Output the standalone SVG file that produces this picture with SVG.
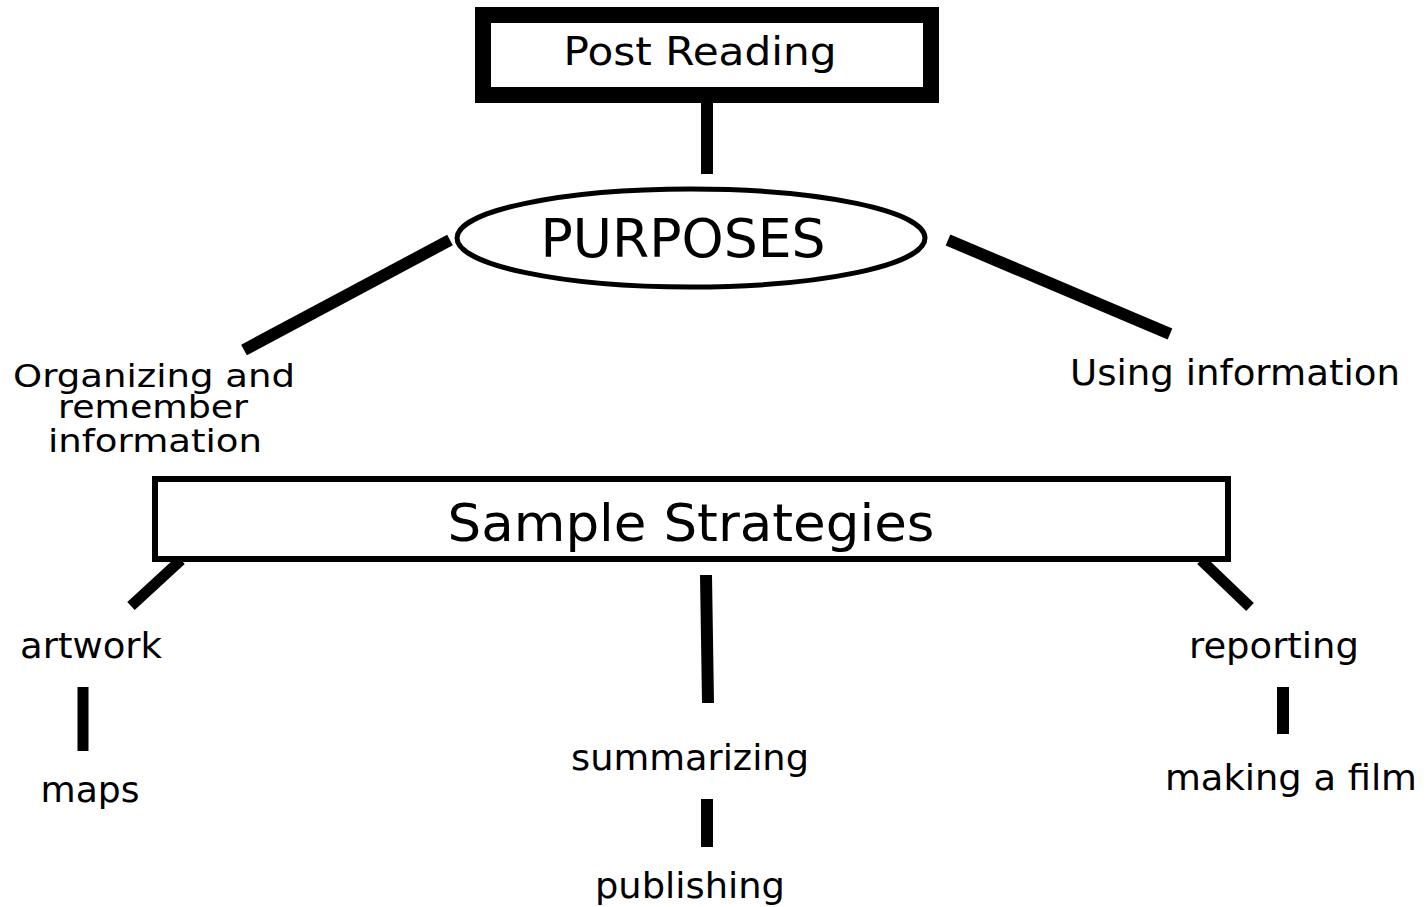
<svg xmlns="http://www.w3.org/2000/svg" width="1427" height="907" viewBox="0 0 1427 907">
<style>
text{font-family:"DejaVu Sans","Liberation Sans",sans-serif;fill:#000;text-anchor:middle}
.lbl{font-size:35px}
.org{font-size:32px}
.conn line{stroke:#000;stroke-linecap:butt}
</style>
<rect width="1427" height="907" fill="#fff"/>
<g id="connectors" class="conn">
<line x1="707" y1="102" x2="707" y2="174" stroke-width="12"/>
<line x1="450" y1="240" x2="244" y2="350" stroke-width="12"/>
<line x1="948" y1="240" x2="1170" y2="334" stroke-width="12"/>
<line x1="181" y1="560" x2="131" y2="606" stroke-width="11"/>
<line x1="706" y1="575" x2="708" y2="703" stroke-width="12"/>
<line x1="1201" y1="560" x2="1250" y2="607" stroke-width="11"/>
<line x1="83" y1="687" x2="83" y2="751" stroke-width="11"/>
<line x1="707" y1="799" x2="707" y2="847" stroke-width="12"/>
<line x1="1283" y1="687" x2="1283" y2="734" stroke-width="12"/>
</g>
<g id="post-reading">
<rect x="483" y="15" width="448" height="80" fill="#fff" stroke="#000" stroke-width="16"/>
<text x="700" y="65" font-size="39" textLength="273" lengthAdjust="spacingAndGlyphs">Post Reading</text>
</g>
<g id="purposes">
<ellipse cx="691" cy="238" rx="234" ry="49" fill="#fff" stroke="#000" stroke-width="5"/>
<text x="683" y="257" font-size="53" textLength="285" lengthAdjust="spacingAndGlyphs">PURPOSES</text>
</g>
<g id="organizing">
<text class="org" x="154" y="387" textLength="282" lengthAdjust="spacingAndGlyphs">Organizing and</text>
<text class="org" x="153" y="418" textLength="190" lengthAdjust="spacingAndGlyphs">remember</text>
<text class="org" x="155" y="452" textLength="214" lengthAdjust="spacingAndGlyphs">information</text>
</g>
<g id="using">
<text class="lbl" x="1235" y="385" textLength="330" lengthAdjust="spacingAndGlyphs">Using information</text>
</g>
<g id="sample-strategies">
<rect x="155" y="479" width="1073" height="80" fill="#fff" stroke="#000" stroke-width="6"/>
<text x="691" y="541" font-size="52" textLength="487" lengthAdjust="spacingAndGlyphs">Sample Strategies</text>
</g>
<g id="artwork"><text class="lbl" x="91" y="658" textLength="142" lengthAdjust="spacingAndGlyphs">artwork</text></g>
<g id="maps"><text class="lbl" x="90" y="802" textLength="99" lengthAdjust="spacingAndGlyphs">maps</text></g>
<g id="summarizing"><text class="lbl" x="690" y="770" textLength="238" lengthAdjust="spacingAndGlyphs">summarizing</text></g>
<g id="publishing"><text class="lbl" x="690" y="898" textLength="190" lengthAdjust="spacingAndGlyphs">publishing</text></g>
<g id="reporting"><text class="lbl" x="1274" y="658" textLength="170" lengthAdjust="spacingAndGlyphs">reporting</text></g>
<g id="making-a-film"><text class="lbl" x="1291" y="790" textLength="252" lengthAdjust="spacingAndGlyphs">making a film</text></g>
</svg>
